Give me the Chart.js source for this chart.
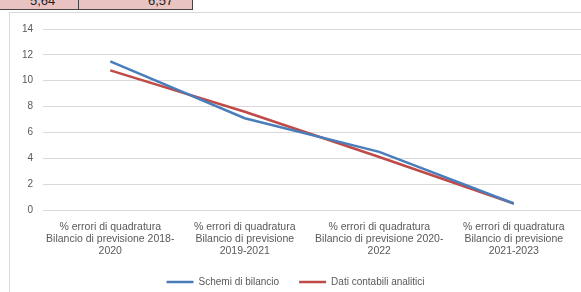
<!DOCTYPE html>
<html><head><meta charset="utf-8">
<script src="https://cdn.jsdelivr.net/npm/chart.js@4"></script>
<style>
html,body{margin:0;padding:0;background:#fff;width:581px;height:292px;overflow:hidden;font-family:"Liberation Sans",Arial,sans-serif}
#tbl{position:absolute;left:0;top:0;height:9px;width:192px;background:#e9c3c2;border-bottom:1px solid #444;border-right:1px solid #444}
#tbl div{position:absolute;top:-7px;font-size:13px;color:#222}
#sep{position:absolute;left:78px;top:0;height:10px;width:1px;background:#444}
#frame{position:absolute;left:9px;top:12px;width:572px;height:290px;border-left:1px solid #d9d9d9;border-top:1px solid #d9d9d9;box-sizing:border-box}
#wrap{position:absolute;left:10px;top:13px;width:571px;height:279px}
</style></head><body>
<div id="tbl"><div style="left:30px">5,64</div><div style="left:148px">6,57</div></div>
<div id="sep"></div>
<div id="frame"></div>
<div id="wrap"><canvas id="c" width="571" height="279"></canvas></div>
<script>
const categories = [
  ["% errori di quadratura","Bilancio di previsione 2018-","2020"],
  ["% errori di quadratura","Bilancio di previsione","2019-2021"],
  ["% errori di quadratura","Bilancio di previsione 2020-","2022"],
  ["% errori di quadratura","Bilancio di previsione","2021-2023"]
];
const schemiDiBilancio = [11.5, 7.1, 4.5, 0.5];
const datiContabiliAnalitici = [10.8, 7.6, 4.1, 0.5];
const yTicks = [0, 2, 4, 6, 8, 10, 12, 14];

const FONT = '"Liberation Sans", Arial, sans-serif';
new Chart(document.getElementById('c'), {
  type: 'line',
  data: {
    labels: categories,
    datasets: [
      {label: 'Schemi di bilancio', data: schemiDiBilancio, borderColor: '#4a7ebb', backgroundColor: '#4a7ebb', borderWidth: 2.5, pointRadius: 0, tension: 0},
      {label: 'Dati contabili analitici', data: datiContabiliAnalitici, borderColor: '#be4b48', backgroundColor: '#be4b48', borderWidth: 2.5, pointRadius: 0, tension: 0}
    ]
  },
  options: {
    responsive: false,
    animation: false,
    layout: {padding: {top: 5, right: 0, left: 0, bottom: 0}},
    plugins: {
      tooltip: {enabled: false},
      legend: {
        position: 'bottom',
        maxHeight: 35,
        labels: {
          boxWidth: 27, boxHeight: 0, padding: 20,
          color: '#595959',
          font: {size: 10, family: FONT},
          generateLabels(chart) {
            return chart.data.datasets.map((d, i) => ({
              text: d.label, strokeStyle: d.borderColor, fillStyle: d.borderColor,
              lineWidth: 2.5, datasetIndex: i, fontColor: '#595959'
            }));
          }
        }
      }
    },
    scales: {
      x: {
        offset: true,
        afterFit(scale) { scale.height = 47; },
        grid: {display: false, drawTicks: false, offset: true},
        border: {color: '#d9d9d9', width: 1},
        ticks: {color: '#595959', font: {size: 10.5, family: FONT, lineHeight: 1.15}, maxRotation: 0, autoSkip: false, padding: 11}
      },
      y: {
        min: 0, max: 14,
        afterFit(scale) { scale.width = 33; },
        afterBuildTicks(scale) { scale.ticks = yTicks.map(v => ({value: v})); },
        grid: {color: '#d9d9d9', drawTicks: false},
        border: {display: false},
        ticks: {color: '#595959', font: {size: 10, family: FONT}, padding: 10}
      }
    }
  }
});
</script>
</body></html>
